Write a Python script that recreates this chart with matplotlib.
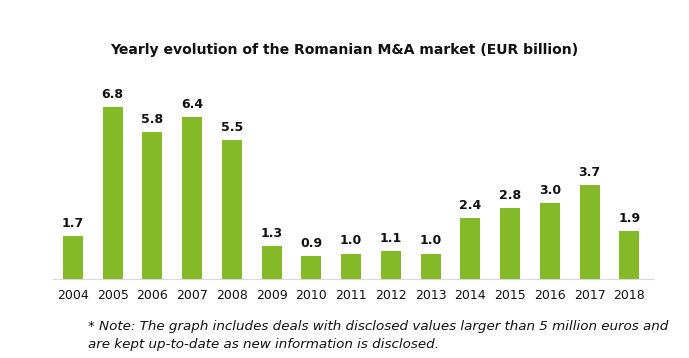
import matplotlib.pyplot as plt

# data
years = ['2004', '2005', '2006', '2007', '2008', '2009', '2010', '2011',
         '2012', '2013', '2014', '2015', '2016', '2017', '2018']
values = [1.7, 6.8, 5.8, 6.4, 5.5, 1.3, 0.9, 1.0, 1.1, 1.0, 2.4, 2.8, 3.0, 3.7, 1.9]

title = 'Yearly evolution of the Romanian M&A market (EUR billion)'
note = ('* Note: The graph includes deals with disclosed values larger than 5 million euros and\n'
        'are kept up-to-date as new information is disclosed.')

fig = plt.figure(figsize=(6.89, 3.58), dpi=100)
ax = fig.add_axes([0.077, 0.2207, 0.871, 0.53])

x = range(len(years))
bars = ax.bar(x, values, width=0.5, color='#84BA27')

for i, v in enumerate(values):
    ax.text(i, v + 0.25, f'{v:.1f}', ha='center', va='bottom',
            fontsize=9, fontweight='bold', color='#111111')

ax.set_xlim(-0.5, 14.6)
ax.set_ylim(0, 7.5)
ax.set_xticks(list(x))
ax.set_xticklabels(years, fontsize=9, color='#111111')
ax.tick_params(axis='x', length=0, pad=7)
ax.set_yticks([])

for s in ['top', 'right', 'left']:
    ax.spines[s].set_visible(False)
ax.spines['bottom'].set_color('#d9d9d9')

fig.text(0.5, 1 - 50 / 358, title, ha='center', va='center',
         fontsize=10.1, fontweight='bold', color='#111111')
fig.text(88 / 689, 1 - 335.5 / 358, note, ha='left', va='center',
         fontsize=9.7, style='italic', color='#111111', linespacing=1.5)

plt.savefig('out.png', dpi=100)
